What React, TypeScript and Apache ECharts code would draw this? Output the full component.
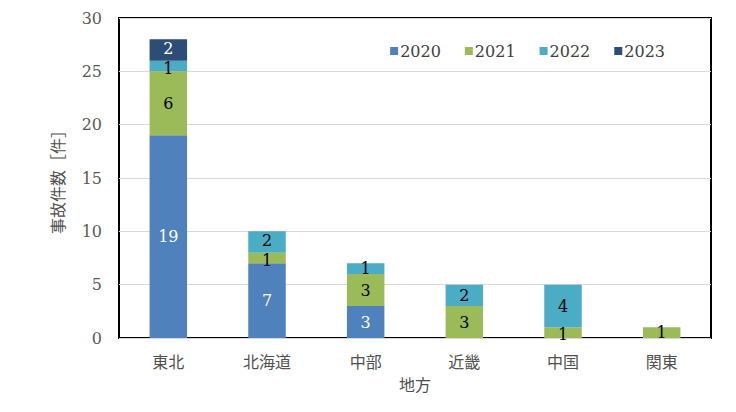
import React, { useEffect, useRef } from "react";
import * as echarts from "echarts";

const categories = ["東北", "北海道", "中部", "近畿", "中国", "関東"];
const seriesNames = ["2020", "2021", "2022", "2023"];
const v2020 = [19, 7, 3, null, null, null];
const v2021 = [6, 1, 3, 3, 1, 1];
const v2022 = [1, 2, 1, 2, 4, null];
const v2023 = [2, null, null, null, null, null];
const yTicks = { min: 0, max: 30, interval: 5 };

const colors = ["#4F81BD", "#9BBB59", "#4BACC6", "#2C4D75"];
const labelColors = ["#ffffff", "#000000", "#000000", "#ffffff"];
const FONT = "DejaVu Serif";
const CJK = "Noto Sans CJK JP";

export default function App() {
  const ref = useRef<HTMLDivElement>(null);
  useEffect(() => {
    const chart = echarts.init(ref.current!, null, { renderer: "svg" });
    const values: (number | null)[][] = [v2020, v2021, v2022, v2023];
    // nudge labels of thin (value 1) segments apart from their neighbours
    const buildData = (si: number) =>
      values[si].map((v, ci) => {
        if (v == null) return v;
        const above = si < values.length - 1 ? values[si + 1][ci] : null;
        const below = si > 0 ? values[si - 1][ci] : null;
        let dy = 0;
        if (v === 1 && above) dy += 2;
        if (below === 1 && v <= 2) dy -= 2;
        return dy ? { value: v, label: { offset: [0, dy] } } : v;
      });
    chart.setOption({
      animation: false,
      backgroundColor: "#ffffff",
      textStyle: { fontFamily: FONT },
      grid: {
        left: 119,
        right: 25,
        top: 18,
        bottom: 74,
        show: true,
        borderColor: "#000000",
        borderWidth: 2,
        backgroundColor: "#ffffff",
        z: 0,
      },
      legend: {
        data: seriesNames,
        right: 66,
        top: 38,
        itemWidth: 8,
        itemHeight: 8,
        itemGap: 24,
        icon: "rect",
        textStyle: { fontFamily: FONT, fontSize: 16, color: "#404040", padding: [0, 0, 0, -3] },
      },
      xAxis: {
        type: "category",
        data: categories,
        name: "地方",
        nameLocation: "middle",
        nameGap: 38,
        nameTextStyle: { fontFamily: CJK, fontSize: 16, color: "#505050" },
        axisLine: { show: false },
        axisTick: { show: false },
        axisLabel: { fontFamily: CJK, fontSize: 16, color: "#505050", margin: 15 },
      },
      yAxis: {
        type: "value",
        min: yTicks.min,
        max: yTicks.max,
        interval: yTicks.interval,
        name: "事故件数［件］",
        nameLocation: "middle",
        nameGap: 54,
        nameTextStyle: { fontFamily: CJK, fontSize: 16, color: "#505050" },
        axisLine: { show: false },
        axisTick: { show: false },
        axisLabel: { fontFamily: FONT, fontSize: 16, color: "#595959", margin: 17 },
        splitLine: { lineStyle: { color: "#d9d9d9", width: 1 } },
      },
      series: seriesNames.map((name, i) => ({
        name,
        type: "bar",
        stack: "total",
        data: buildData(i),
        barWidth: "38%",
        itemStyle: { color: colors[i] },
        label: {
          show: true,
          position: "inside",
          fontFamily: FONT,
          fontSize: 16,
          lineHeight: 12,
          color: labelColors[i],
          formatter: (p: any) => (p.value ? String(p.value) : ""),
        },
      })),
    });
    return () => chart.dispose();
  }, []);
  return (
    <div
      ref={ref}
      style={{ position: "absolute", left: 0, top: 0, width: 736, height: 412 }}
    />
  );
}
